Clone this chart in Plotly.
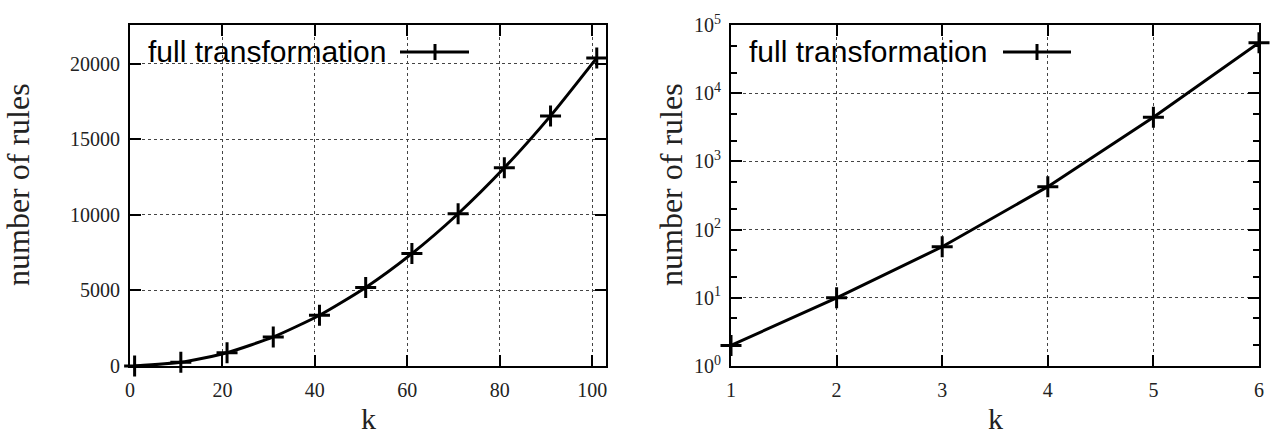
import plotly.graph_objects as go

# ---- data ----
k_left = [1, 11, 21, 31, 41, 51, 61, 71, 81, 91, 101]
rules_left = [2, 242, 882, 1922, 3362, 5202, 7442, 10082, 13122, 16562, 20402]
k_right = [1, 2, 3, 4, 5, 6]
rules_right = [2, 10, 56, 426, 4430, 55000]
series_name = "full transformation"
left_xticks = [0, 20, 40, 60, 80, 100]
left_yticks = [0, 5000, 10000, 15000, 20000]
left_yticktext = ["0", "5000", "10000", "15000", "20000"]
right_xticks = [1, 2, 3, 4, 5, 6]
right_ytickvals = [1, 10, 100, 1000, 10000, 100000]
right_yticktext = ["10<sup>0</sup>", "10<sup>1</sup>", "10<sup>2</sup>",
                   "10<sup>3</sup>", "10<sup>4</sup>", "10<sup>5</sup>"]
x_title = "k"
y_title = "number of rules"

W, H = 1283, 435
def px(x):
    return x / W
def py(y):
    return 1 - y / H

SERIF = "Liberation Serif, Times New Roman, serif"
SANS = "Liberation Sans, Arial, sans-serif"

fig = go.Figure()

line_style = dict(color="black", width=3)
marker_style = dict(symbol="cross-thin", size=15, color="black",
                    line=dict(color="black", width=3))

fig.add_trace(go.Scatter(x=k_left, y=rules_left, mode="lines+markers",
                         name=series_name, line=dict(shape="spline", smoothing=0.6, **line_style),
                         marker=marker_style, cliponaxis=False, showlegend=False,
                         xaxis="x", yaxis="y"))
fig.add_trace(go.Scatter(x=k_right, y=rules_right, mode="lines+markers",
                         name=series_name, line=line_style,
                         marker=marker_style, cliponaxis=False, showlegend=False,
                         xaxis="x2", yaxis="y2"))

# plot area geometry (pixels)
L1, R1 = 130, 606
L2, R2 = 731, 1259
TOP, BOT = 25, 366
ydom = [py(BOT), py(TOP)]

axis_common = dict(
    showline=True, linecolor="black", linewidth=2, mirror="ticks",
    ticks="inside", ticklen=11, tickwidth=2, tickcolor="black",
    showgrid=True, gridcolor="#444444", gridwidth=1, griddash="dot",
    zeroline=False, automargin=False,
    tickfont=dict(family=SERIF, size=20, color="#222222"),
)

fig.update_layout(
    width=W, height=H,
    margin=dict(l=0, r=0, t=0, b=0),
    paper_bgcolor="white", plot_bgcolor="white",
    showlegend=False,
    xaxis=dict(domain=[px(L1), px(R1)], range=[0, 103], tickvals=left_xticks,
               anchor="y", ticklabelstandoff=5, **axis_common),
    yaxis=dict(domain=ydom, range=[0, 22580], tickvals=left_yticks,
               ticktext=left_yticktext,
               anchor="x", ticklabelstandoff=4, **axis_common),
    xaxis2=dict(domain=[px(L2), px(R2)], range=[1, 6], tickvals=right_xticks,
                anchor="y2", ticklabelstandoff=5, **axis_common),
    yaxis2=dict(domain=ydom, type="log", range=[0, 5], tickvals=right_ytickvals,
                ticktext=right_yticktext, anchor="x2", ticklabelstandoff=4,
                minor=dict(ticks="inside", ticklen=6, tickwidth=2, tickcolor="black",
                           dtick="D2", showgrid=False),
                **axis_common),
)

shapes = []
annotations = []
# legend-like keys (text, then a line sample with a "+" marker), gnuplot style
for (left, line_x0, line_x1, mark_x, blank_x1) in [(L1, 400, 469, 435, 481),
                                                    (L2, 1003, 1071, 1037, 1083)]:
    # white box blanking the grid behind the key
    shapes.append(dict(type="rect", xref="paper", yref="paper",
                       x0=px(left + 2), x1=px(blank_x1), y0=py(68), y1=py(TOP + 1),
                       fillcolor="white", line=dict(width=0), layer="between"))
    shapes.append(dict(type="line", xref="paper", yref="paper",
                       x0=px(line_x0), x1=px(line_x1), y0=py(52), y1=py(52),
                       line=dict(color="black", width=3)))
    shapes.append(dict(type="line", xref="paper", yref="paper",
                       x0=px(mark_x), x1=px(mark_x), y0=py(44), y1=py(60),
                       line=dict(color="black", width=3)))
    annotations.append(dict(text=series_name, xref="paper", yref="paper",
                            x=px(left + 16), y=py(51), xanchor="left", yanchor="middle",
                            showarrow=False, font=dict(family=SANS, size=30, color="black")))

# axis titles
for cx in [18, 671]:
    annotations.append(dict(text=y_title, xref="paper", yref="paper",
                            x=px(cx), y=py(185), xanchor="center", yanchor="middle",
                            textangle=-90, showarrow=False,
                            font=dict(family=SERIF, size=32, color="#222222")))
for cx in [368, 995]:
    annotations.append(dict(text=x_title, xref="paper", yref="paper",
                            x=px(cx), y=py(418), xanchor="center", yanchor="middle",
                            showarrow=False, font=dict(family=SERIF, size=30, color="#222222")))

fig.update_layout(shapes=shapes, annotations=annotations)

fig.write_html("out.html")
